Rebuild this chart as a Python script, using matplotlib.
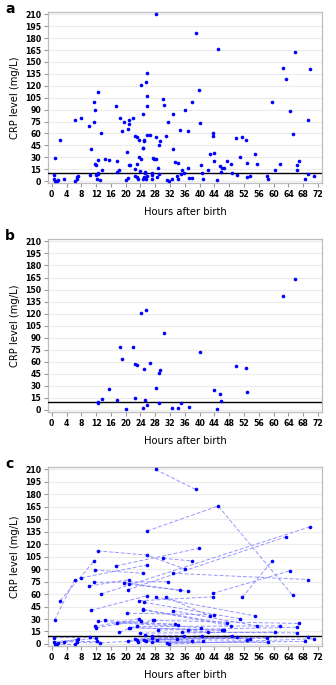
import matplotlib
matplotlib.use("Agg")
import matplotlib.pyplot as plt
import numpy as np

# ---- Panel b: subjects with a single measurement ----
b_hours = [24.1, 25.5, 30.4, 62.6, 65.8, 18.5, 21.9, 19.0, 22.6, 23.1, 26.7, 25.0, 29.3,
           29.1, 40.0, 49.9, 52.6, 15.6, 28.2, 13.5, 12.4, 12.6, 17.6, 22.5, 20.0, 25.1,
           24.7, 25.7, 29.1, 32.4, 34.1, 35.0, 37.0, 44.0, 45.5, 45.9, 44.8, 52.8]
b_crp = [121, 124.5, 96, 142, 163, 79, 79, 63, 56.8, 55.5, 58.5, 51.3, 50.4,
         45.8, 72.5, 54.7, 52, 26.3, 28, 13.6, 10.2, 8.5, 11.9, 14.8, 1.7, 11.9,
         3, 6.8, 8.9, 3, 3, 9.3, 4.2, 25.4, 19.5, 11, 1.7, 22.9]

# ---- Panel c: subjects with repeated measurements ----
c_patient = [1, 1, 2, 2, 2, 3, 3, 4, 4, 5, 5, 5, 6, 6, 7, 7, 8, 8, 9, 9, 10, 10,
             11, 11, 12, 12, 13, 13, 14, 14, 15, 15, 16, 16, 17, 17, 18, 18, 19, 19,
             20, 20, 21, 21, 22, 22, 23, 23, 24, 24, 25, 25, 26, 26, 27, 27, 28, 28,
             29, 29, 30, 30, 31, 31, 32, 32, 33, 33, 34, 34, 35, 35, 36, 36, 37, 37,
             38, 38, 39, 39, 40, 40, 41, 41, 42, 42, 43, 43, 44, 44, 45, 45, 46, 46,
             47, 47, 48, 48, 48, 49, 49, 50, 50, 51, 51, 52, 52, 53, 53, 54, 54,
             55, 55, 56, 56, 57, 57, 58, 58, 59, 59, 60, 60, 61, 61]
c_hours = [28.1, 38.9, 25.8, 45.0, 65.1, 13.3, 69.8, 20.6, 63.4, 12.4, 25.7, 36.1,
           17.5, 39.7, 30.1, 37.9, 51.5, 59.6, 2.3, 11.5, 0.8, 6.2, 8.0, 25.8,
           11.6, 24.8, 11.4, 31.5, 10.1, 20.9, 19.6, 34.8, 20.8, 36.9, 43.5, 64.4,
           32.8, 69.3, 10.6, 25.7, 23.7, 43.7, 25.0, 50.9, 28.1, 55.0, 30.8, 42.7,
           20.4, 43.8, 24.6, 47.3, 24.8, 48.6, 32.8, 55.4, 14.3, 33.2, 12.6, 34.2,
           11.6, 23.7, 12.0, 24.1, 17.7, 40.3, 18.3, 27.3, 20.8, 46.0, 21.3, 46.5,
           23.0, 61.6, 27.6, 66.8, 28.8, 66.2, 23.8, 60.4, 35.2, 66.4, 36.8, 42.2,
           0.6, 10.4, 0.5, 6.8, 0.9, 6.4, 1.4, 7.0, 1.8, 11.9, 3.2, 12.2,
           6.9, 13.1, 34.0, 20.7, 40.5, 22.5, 48.8, 23.1, 50.0, 23.4, 41.0,
           25.2, 35.8, 25.0, 52.8, 25.5, 37.9, 27.1, 53.7, 27.2, 58.1, 27.0, 58.6,
           28.4, 69.2, 31.1, 68.5, 31.6, 71.0]
c_crp = [210, 186, 136, 166, 58.7, 60, 141, 65.4, 129, 112, 107, 90,
         94, 115, 103, 100, 56, 100, 52, 100, 28.7, 77.5, 79.6, 95,
         89, 85, 74.2, 75, 69.6, 77.5, 73.8, 64.6, 72, 63.3, 60.8, 88,
         85, 77.5, 40.4, 58, 52, 56.7, 50, 30.4, 56, 33.7, 56.7, 33.7,
         37, 35, 41.7, 24.6, 41, 21.7, 40, 21.7, 28.3, 23.7, 27, 23,
         21, 30.4, 19.6, 28, 25.4, 19.6, 14.2, 29, 19.6, 16.3, 19.6, 16.7,
         21, 21.7, 28.3, 24.6, 16.7, 20, 13, 14.2, 14.2, 13.3, 16.7, 14.2,
         7.5, 8, 2.5, 5, 0, 0, 0, 6, 1.3, 7, 2.5, 3,
         2, 1.3, 6, 4, 10, 6, 10, 4.6, 8, 2, 3,
         10.4, 10, 5, 4.6, 3, 3.7, 9.6, 6.2, 7, 6.7, 2.5, 2.5,
         5, 8.8, 1.3, 3, 0, 6.2]

# ---- Panel a: all measurements ----
a_hours = b_hours + c_hours
a_crp = b_crp + c_crp

x_ticks = list(range(0, 73, 4))
y_ticks = list(range(0, 211, 15))
ref_level = 10
panel_labels = ["a", "b", "c"]
xlabel = "Hours after birth"
ylabel = "CRP level (mg/L)"

W, H = 336, 685
fig = plt.figure(figsize=(W / 100, H / 100), dpi=100)

left = 48.3 / W
width = (322.3 - 48.3) / W
boxes = [(12, 183), (239, 412), (467, 646)]
label_pos = [(3, 9), (3, 236), (3, 464)]

axes = []
for (top, bot) in boxes:
    ax = fig.add_axes([left, 1 - bot / H, width, (bot - top) / H])
    axes.append(ax)

def style(ax):
    ax.set_xlim(-0.92, 73.15)
    ax.set_ylim(-2.5, 213)
    ax.set_xticks(x_ticks)
    ax.set_yticks(y_ticks)
    ax.set_xticklabels([str(t) for t in x_ticks], fontsize=5.6, fontweight="bold")
    ax.set_yticklabels([str(t) for t in y_ticks], fontsize=5.6, fontweight="bold")
    for s in ax.spines.values():
        s.set_color("#bdbdbd")
        s.set_linewidth(0.9)
    ax.tick_params(direction="out", length=3, width=0.8, color="#999999", pad=2)
    ax.yaxis.grid(True, color="#ececec", linewidth=0.8)
    ax.set_axisbelow(True)
    ax.axhline(ref_level, color="black", linewidth=1.0, zorder=3)
    ax.set_xlabel(xlabel, fontsize=7.2, labelpad=6)
    ax.set_ylabel(ylabel, fontsize=7.2, labelpad=4)

ms = 2.6
# Panel a
ax = axes[0]
style(ax)
ax.plot(a_hours, a_crp, "o", color="#0000ff", markersize=ms, markeredgewidth=0, zorder=4)

# Panel b
ax = axes[1]
style(ax)
ax.plot(b_hours, b_crp, "o", color="#0000ff", markersize=ms, markeredgewidth=0, zorder=4)

# Panel c
ax = axes[2]
style(ax)
cp = np.array(c_patient)
ch = np.array(c_hours)
cc = np.array(c_crp)
for pid in np.unique(cp):
    m = cp == pid
    order = np.argsort(ch[m])
    ax.plot(ch[m][order], cc[m][order], linestyle=(0, (4, 2)), color="#7b7bff",
            linewidth=0.7, alpha=0.8, zorder=2)
ax.plot(c_hours, c_crp, "o", color="#0000ff", markersize=ms, markeredgewidth=0, zorder=4)

for lab, (x, y) in zip(panel_labels, label_pos):
    fig.text(x / W + 0.02, 1 - y / H, lab, fontsize=10, fontweight="bold",
             ha="center", va="center")

fig.savefig("out.png", dpi=100)
